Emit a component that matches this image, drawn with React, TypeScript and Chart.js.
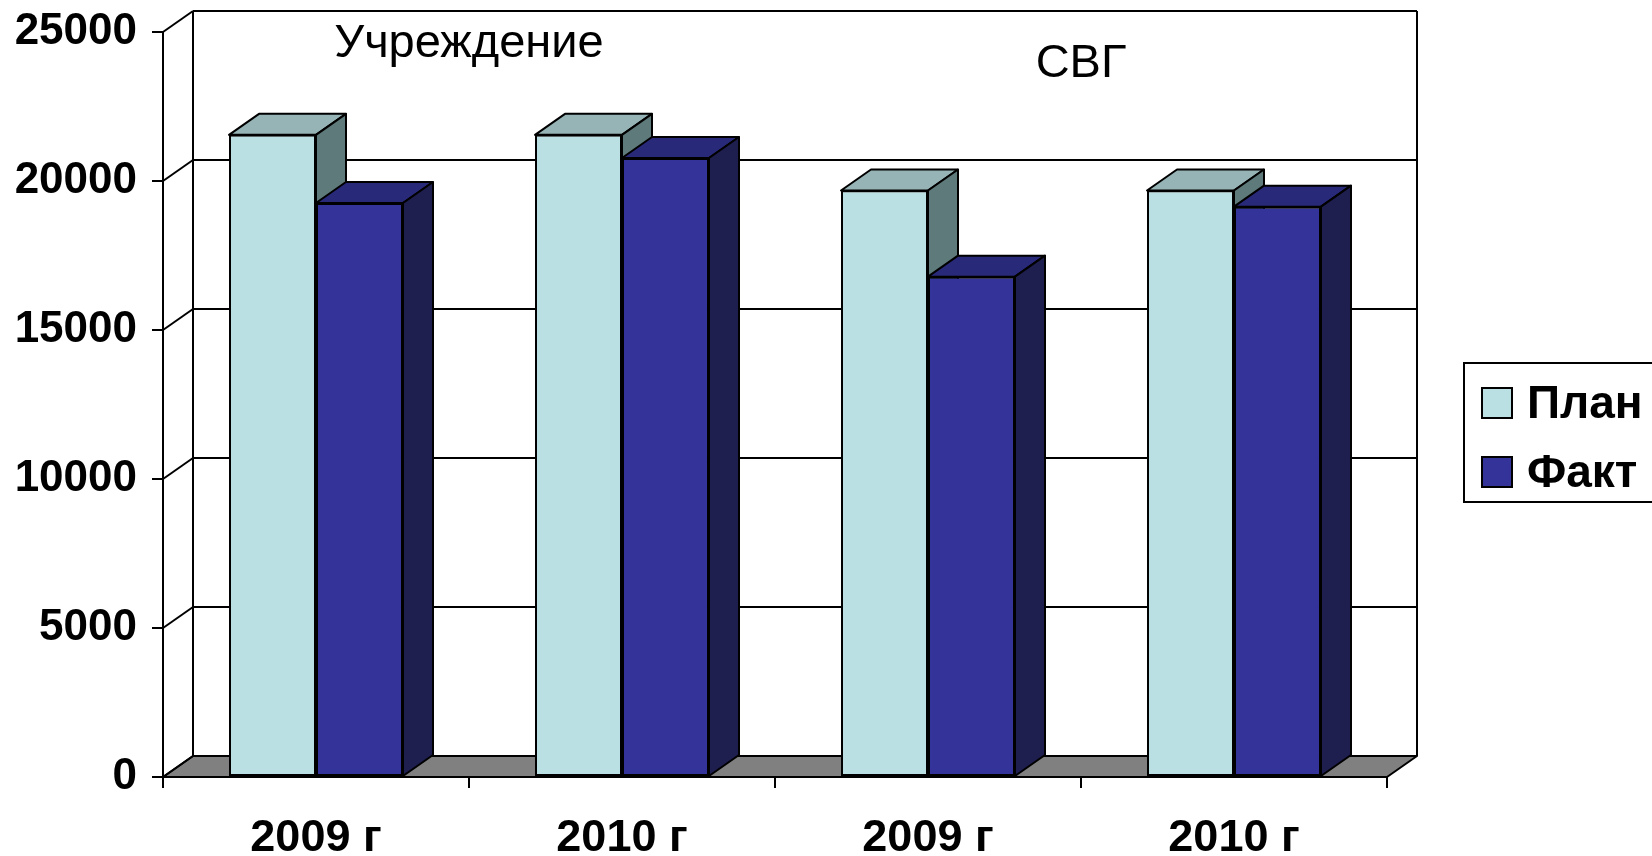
import React, { useEffect, useRef } from 'react';
import { Chart, registerables } from 'chart.js';

Chart.register(...registerables);

const categories = ['2009 г', '2010 г', '2009 г', '2010 г'];
const groupLabels = ['Учреждение', 'СВГ'];
const seriesNames = ['План', 'Факт'];
const planValues = [21550, 21550, 19680, 19680];
const factValues = [19260, 20770, 16790, 19140];
const yMin = 0;
const yMax = 25000;
const yStep = 5000;

const FONT = '"Liberation Sans", Arial, sans-serif';
const DX = 30;
const DY = -21;
const faces = [
  { front: '#BBE0E3', top: '#96B3B5', side: '#5F7A7B' },
  { front: '#333399', top: '#29297A', side: '#1E1E4F' },
];

function poly(ctx: CanvasRenderingContext2D, pts: number[][], fill: string) {
  ctx.beginPath();
  ctx.moveTo(pts[0][0], pts[0][1]);
  for (let i = 1; i < pts.length; i++) ctx.lineTo(pts[i][0], pts[i][1]);
  ctx.closePath();
  ctx.fillStyle = fill;
  ctx.fill();
  ctx.stroke();
}

function line(ctx: CanvasRenderingContext2D, x1: number, y1: number, x2: number, y2: number) {
  ctx.beginPath();
  ctx.moveTo(x1, y1);
  ctx.lineTo(x2, y2);
  ctx.stroke();
}

const threeDPlugin = {
  id: 'threeD',
  beforeDatasetsDraw(chart: any) {
    const ctx: CanvasRenderingContext2D = chart.ctx;
    const { left, right, top, bottom } = chart.chartArea;
    const ys = chart.scales.y;
    ctx.save();
    ctx.lineWidth = 2;
    ctx.strokeStyle = '#000';
    ctx.lineJoin = 'round';
    // floor
    poly(ctx, [[left, bottom], [right, bottom], [right + DX, bottom + DY], [left + DX, bottom + DY]], '#808080');
    // back wall gridlines + left wall connectors
    ys.ticks.forEach((t: any) => {
      const py = ys.getPixelForValue(t.value);
      if (t.value > yMin) line(ctx, left + DX, py + DY, right + DX, py + DY);
      line(ctx, left, py, left + DX, py + DY);
    });
    line(ctx, left + DX, top + DY, left + DX, bottom + DY);
    line(ctx, right + DX, top + DY, right + DX, bottom + DY);
    // 3D top and side faces of bars
    chart.data.datasets.forEach((_ds: any, di: number) => {
      const meta = chart.getDatasetMeta(di);
      meta.data.forEach((el: any) => {
        const p = el.getProps(['x', 'y', 'base', 'width'], true);
        const l = p.x - p.width / 2;
        const r = p.x + p.width / 2;
        const t = p.y;
        const b = p.base;
        poly(ctx, [[l, t], [r, t], [r + DX, t + DY], [l + DX, t + DY]], faces[di].top);
        poly(ctx, [[r, t], [r + DX, t + DY], [r + DX, b + DY], [r, b]], faces[di].side);
      });
    });
    ctx.restore();
  },
  afterDraw(chart: any) {
    const ctx: CanvasRenderingContext2D = chart.ctx;
    const xs = chart.scales.x;
    const { top } = chart.chartArea;
    ctx.save();
    // group labels
    ctx.fillStyle = '#000';
    ctx.textAlign = 'center';
    ctx.textBaseline = 'alphabetic';
    ctx.font = `47px ${FONT}`;
    const g1 = (xs.getPixelForValue(0) + xs.getPixelForValue(1)) / 2;
    const g2 = (xs.getPixelForValue(2) + xs.getPixelForValue(3)) / 2;
    ctx.fillText(groupLabels[0], g1, top + 25);
    ctx.font = `47px ${FONT}`;
    ctx.fillText(groupLabels[1], g2, top + 45);
    // legend
    ctx.lineWidth = 2;
    ctx.strokeStyle = '#000';
    ctx.strokeRect(1464, 363, 300, 139);
    ctx.textAlign = 'left';
    ctx.textBaseline = 'middle';
    ctx.font = `bold 46px ${FONT}`;
    chart.data.datasets.forEach((ds: any, i: number) => {
      const cy = 403 + i * 69;
      ctx.fillStyle = ds.backgroundColor;
      ctx.fillRect(1482, cy - 15, 30, 30);
      ctx.strokeRect(1482, cy - 15, 30, 30);
      ctx.fillStyle = '#000';
      ctx.fillText(ds.label, 1527, cy + 2);
    });
    ctx.restore();
  },
};

export default function App() {
  const ref = useRef<HTMLCanvasElement>(null);
  useEffect(() => {
    document.body.style.margin = '0';
    const canvas = ref.current;
    if (!canvas) return;
    const tickFont = { family: FONT, size: 44, weight: 'bold' as const };
    const chart = new Chart(canvas, {
      type: 'bar',
      data: {
        labels: categories,
        datasets: [
          { label: seriesNames[0], data: planValues, backgroundColor: faces[0].front, borderColor: '#000', borderWidth: 2, borderSkipped: false },
          { label: seriesNames[1], data: factValues, backgroundColor: faces[1].front, borderColor: '#000', borderWidth: 2, borderSkipped: false },
        ],
      },
      options: {
        responsive: false,
        animation: false,
        devicePixelRatio: 1,
        layout: { padding: { top: 32, right: 265, left: 0, bottom: 0 } },
        plugins: { legend: { display: false }, tooltip: { enabled: false } },
        datasets: { bar: { categoryPercentage: 0.5686, barPercentage: 1 } },
        scales: {
          x: {
            grid: { offset: true, drawOnChartArea: false, color: '#000', lineWidth: 2, tickLength: 11 },
            border: { color: '#000', width: 2 },
            ticks: { font: { family: FONT, size: 45, weight: 'bold' }, color: '#000', padding: 24, maxRotation: 0 },
            afterFit: (s: any) => { s.height = 79; s.paddingLeft = 0; s.paddingRight = 0; },
          },
          y: {
            min: yMin,
            max: yMax,
            ticks: { stepSize: yStep, font: tickFont, color: '#000', padding: 15, callback: (v: any) => String(v) },
            grid: { drawOnChartArea: false, color: '#000', lineWidth: 2, tickLength: 11 },
            border: { color: '#000', width: 2 },
            afterFit: (s: any) => { s.width = 163; s.paddingTop = 0; s.paddingBottom = 0; },
          },
        },
      },
      plugins: [threeDPlugin],
    } as any);
    return () => chart.destroy();
  }, []);
  return (
    <div style={{ width: 1652, height: 856, background: '#fff' }}>
      <canvas ref={ref} width={1652} height={856} style={{ display: 'block' }} />
    </div>
  );
}
